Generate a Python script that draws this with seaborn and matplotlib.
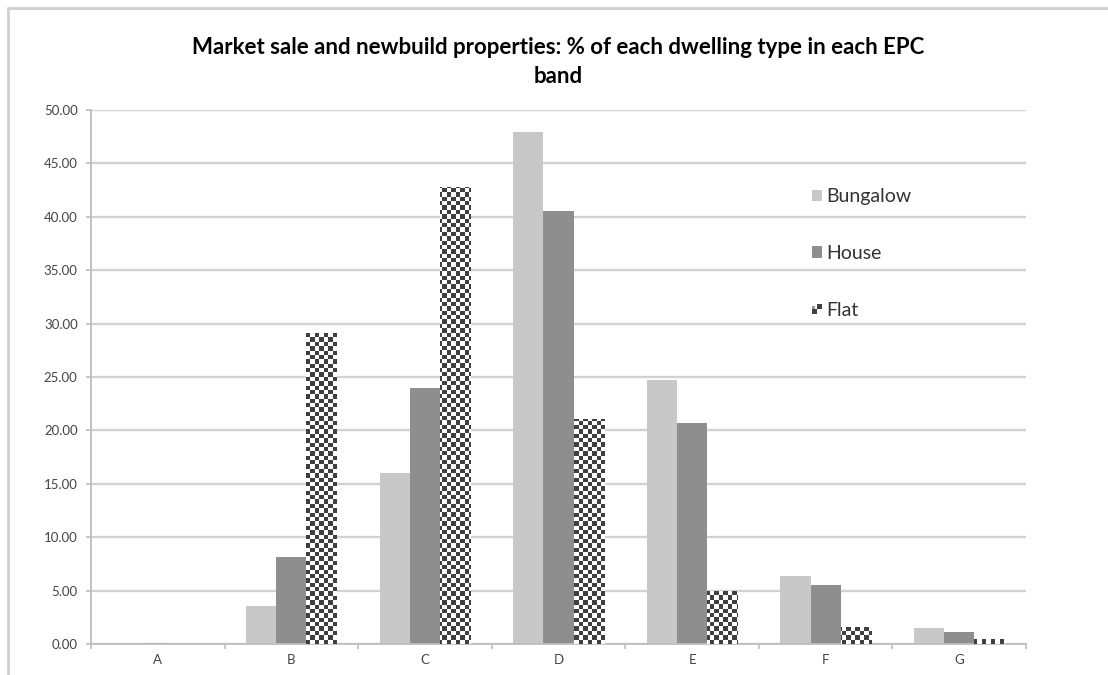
import numpy as np
import pandas as pd
import matplotlib
matplotlib.use("Agg")
import matplotlib.pyplot as plt
import seaborn as sns
from matplotlib.patches import Patch, Rectangle
from matplotlib.legend_handler import HandlerBase
from matplotlib.lines import Line2D
from matplotlib.colors import ListedColormap

# ---- data ----
bands = ["A", "B", "C", "D", "E", "F", "G"]
dwelling_types = ["Bungalow", "House", "Flat"]
bungalow = [0.00, 3.56, 16.00, 47.90, 24.70, 6.40, 1.53]
house = [0.10, 8.15, 24.00, 40.55, 20.66, 5.55, 1.12]
flat = [0.00, 29.10, 42.80, 21.05, 5.00, 1.56, 0.50]
yticks = [0, 5, 10, 15, 20, 25, 30, 35, 40, 45, 50]
title = "Market sale and newbuild properties: % of each dwelling type in each EPC\nband"

df = pd.DataFrame({
    "band": bands * 3,
    "type": ["Bungalow"] * 7 + ["House"] * 7 + ["Flat"] * 7,
    "pct": bungalow + house + flat,
})

light = "#c8c8c8"
mid = "#8e8e8e"
dark = "#3f3f3f"
grid_c = "#d2d2d2"
spine_c = "#bdbdbd"
txt_c = "#444444"

sns.set_theme(style="white")
plt.rcParams["font.family"] = ["Lato", "DejaVu Sans"]

fig = plt.figure(figsize=(11.08, 6.75), dpi=100)
ax = fig.add_axes([91 / 1108, 31 / 675, 935 / 1108, 534 / 675])

sns.barplot(data=df, x="band", y="pct", hue="type", hue_order=dwelling_types,
            order=bands, palette=[light, mid, "white"], saturation=1,
            width=0.68, gap=0, legend=False, ax=ax, errorbar=None,
            linewidth=0, edgecolor="none")

ax.set_ylim(0, 50)
ax.set_xlim(-0.5, len(bands) - 0.5)
ax.set_yticks(yticks)
ax.set_yticklabels([f"{v:.2f}" for v in yticks])
ax.set_xlabel("")
ax.set_ylabel("")

ax.yaxis.grid(True, color=grid_c, linewidth=1.7)
ax.xaxis.grid(False)
ax.set_axisbelow(True)

for s in ["top", "right"]:
    ax.spines[s].set_visible(False)
for s in ["left", "bottom"]:
    ax.spines[s].set_color(spine_c)
    ax.spines[s].set_linewidth(1.3)

ax.tick_params(axis="y", which="major", direction="out", length=3.6, width=1.2,
               color=spine_c, pad=6, labelsize=9.5, labelcolor=txt_c, left=True)
ax.set_xticks(np.arange(-0.5, len(bands), 1.0), minor=True)
ax.tick_params(axis="x", which="minor", direction="out", length=3.6, width=1.2,
               color=spine_c, bottom=True)
ax.tick_params(axis="x", which="major", length=0, pad=7, labelsize=9.5,
               labelcolor=txt_c)

# checkerboard fill for Flat bars
cell_px = 4.4
nx = int(np.ceil(935 / cell_px))
ny = int(np.ceil(534 / cell_px))
yy, xx = np.mgrid[0:ny, 0:nx]
checker = ((xx + yy) % 2).astype(float)
cmap = ListedColormap(["white", dark])
for bar in ax.containers[2]:
    im = ax.imshow(checker, cmap=cmap, interpolation="nearest", aspect="auto",
                   extent=[0, 1, 0, 1], transform=ax.transAxes, origin="lower",
                   zorder=3)
    im.set_clip_path(bar)
ax.set_xlim(-0.5, len(bands) - 0.5)
ax.set_ylim(0, 50)


class CheckerHandler(HandlerBase):
    def create_artists(self, legend, orig_handle, xdescent, ydescent,
                       width, height, fontsize, trans):
        s = min(width, height)
        x0 = -xdescent + (width - s) / 2
        y0 = -ydescent + (height - s) / 2
        h = s / 2
        arts = []
        for i, j in [(0, 0), (1, 1)]:
            arts.append(Rectangle((x0 + i * h, y0 + j * h), h, h,
                                  facecolor=dark, edgecolor="none",
                                  transform=trans))
        arts.append(Rectangle((x0, y0 + h), h * 0.6, h * 0.6,
                              facecolor="#9a9a9a", edgecolor="none",
                              transform=trans))
        return arts


h_b = Patch(facecolor=light, edgecolor="none")
h_h = Patch(facecolor=mid, edgecolor="none")
h_f = Patch(facecolor=dark, edgecolor="none")
leg = ax.legend([h_b, h_h, h_f], dwelling_types,
                handler_map={h_f: CheckerHandler()},
                loc="upper left", bbox_to_anchor=(812 / 1108, 1 - 188 / 675),
                bbox_transform=fig.transFigure, frameon=False,
                fontsize=14, handlelength=0.5, handleheight=0.5,
                handletextpad=0.25, labelspacing=2.05, borderpad=0,
                borderaxespad=0)
for t in leg.get_texts():
    t.set_color("#333333")

fig.text(558.5 / 1108, 1 - 62 / 675, title, ha="center", va="center",
         fontsize=16, fontweight="bold", color="black", linespacing=1.5)

# outer chart frame (partially visible)
fig.add_artist(Line2D([8 / 1108, 8 / 1108], [0, 1 - 8 / 675],
                      transform=fig.transFigure, color="#cfcfcf", linewidth=2))
fig.add_artist(Line2D([8 / 1108, 1], [1 - 8 / 675, 1 - 8 / 675],
                      transform=fig.transFigure, color="#cfcfcf", linewidth=2))

fig.savefig("out.png", dpi=100, facecolor="white")
